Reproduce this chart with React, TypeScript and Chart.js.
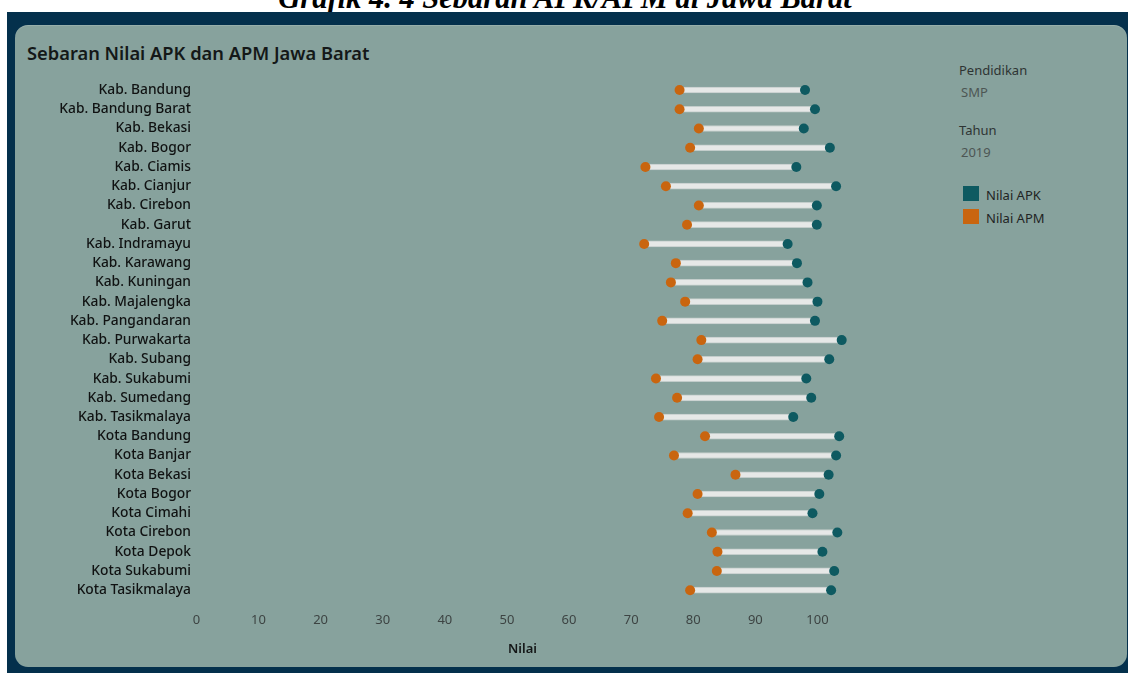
import React, { useEffect, useRef } from "react";
import { Chart, registerables } from "chart.js";

Chart.register(...registerables);

const pageCaption = "Grafik 4. 4 Sebaran APK/APM di Jawa Barat";
const chartTitle = "Sebaran Nilai APK dan APM Jawa Barat";
const axisTitle = "Nilai";

const categories = [
  "Kab. Bandung",
  "Kab. Bandung Barat",
  "Kab. Bekasi",
  "Kab. Bogor",
  "Kab. Ciamis",
  "Kab. Cianjur",
  "Kab. Cirebon",
  "Kab. Garut",
  "Kab. Indramayu",
  "Kab. Karawang",
  "Kab. Kuningan",
  "Kab. Majalengka",
  "Kab. Pangandaran",
  "Kab. Purwakarta",
  "Kab. Subang",
  "Kab. Sukabumi",
  "Kab. Sumedang",
  "Kab. Tasikmalaya",
  "Kota Bandung",
  "Kota Banjar",
  "Kota Bekasi",
  "Kota Bogor",
  "Kota Cimahi",
  "Kota Cirebon",
  "Kota Depok",
  "Kota Sukabumi",
  "Kota Tasikmalaya",
];

const apkValues = [
  98.0, 99.6, 97.8, 102.0, 96.6, 103.0, 99.9, 99.9, 95.2, 96.7, 98.4, 100.0,
  99.6, 103.9, 101.9, 98.2, 99.0, 96.1, 103.5, 103.0, 101.8, 100.3, 99.2, 103.2,
  100.8, 102.7, 102.2,
];

const apmValues = [
  77.8, 77.8, 80.9, 79.5, 72.3, 75.6, 80.9, 79.0, 72.1, 77.2, 76.4, 78.7, 75.0,
  81.3, 80.7, 74.0, 77.4, 74.5, 81.9, 76.9, 86.8, 80.7, 79.1, 83.0, 83.9, 83.8,
  79.5,
];

const xMin = 0;
const xMax = 105;
const xStep = 10;

const filterLabels = [
  { label: "Pendidikan", value: "SMP" },
  { label: "Tahun", value: "2019" },
];

const seriesNames = ["Nilai APK", "Nilai APM"];
const seriesColors = ["#0e5a61", "#c9650f"];

const FONT = "'Noto Sans', 'DejaVu Sans', sans-serif";

export default function App() {
  const canvasRef = useRef<HTMLCanvasElement | null>(null);

  useEffect(() => {
    const canvas = canvasRef.current;
    if (!canvas) return;
    const chart = new Chart(canvas, {
      type: "bar",
      data: {
        labels: categories,
        datasets: [
          {
            type: "line",
            label: seriesNames[0],
            data: apkValues,
            indexAxis: "y",
            showLine: false,
            pointRadius: 5,
            pointHoverRadius: 5,
            pointBorderWidth: 0,
            pointBackgroundColor: seriesColors[0],
            backgroundColor: seriesColors[0],
            borderColor: seriesColors[0],
            order: 1,
          } as any,
          {
            type: "line",
            label: seriesNames[1],
            data: apmValues,
            indexAxis: "y",
            showLine: false,
            pointRadius: 5,
            pointHoverRadius: 5,
            pointBorderWidth: 0,
            pointBackgroundColor: seriesColors[1],
            backgroundColor: seriesColors[1],
            borderColor: seriesColors[1],
            order: 2,
          } as any,
          {
            type: "bar",
            label: "range",
            data: apmValues.map((a, i) => [a, apkValues[i]]) as any,
            backgroundColor: "#e6e8e7",
            borderColor: "#c3cdcb",
            borderWidth: 1,
            borderSkipped: false,
            barThickness: 6,
            order: 3,
          } as any,
        ],
      },
      options: {
        indexAxis: "y",
        responsive: false,
        animation: false,
        maintainAspectRatio: false,
        layout: {
          padding: { left: 0, top: 80.4, right: 279.5, bottom: 15.8 },
        },
        plugins: {
          legend: { display: false },
          tooltip: { enabled: false },
        },
        scales: {
          x: {
            type: "linear",
            position: "bottom",
            min: xMin,
            max: xMax,
            grid: { display: false, drawTicks: false },
            border: { display: false },
            ticks: {
              stepSize: xStep,
              includeBounds: false,
              padding: 13,
              color: "#3d4443",
              font: { family: FONT, size: 13 },
            },
            title: {
              display: true,
              text: axisTitle,
              color: "#141717",
              padding: { top: 0, bottom: 0 },
              font: { family: FONT, size: 13, weight: "600" },
            },
            afterFit: (scale: any) => {
              scale.height = 57.4;
            },
          },
          y: {
            type: "category",
            offset: true,
            grid: { display: false, drawTicks: false },
            border: { display: false },
            ticks: {
              padding: 5.4,
              autoSkip: false,
              color: "#101212",
              font: { family: FONT, size: 13.8, weight: "500" },
            },
            afterFit: (scale: any) => {
              scale.width = 196.4;
            },
          },
        },
      },
    });
    return () => chart.destroy();
  }, []);

  return (
    <div
      style={{
        position: "fixed",
        left: 0,
        top: 0,
        width: 1128,
        height: 673,
        overflow: "hidden",
        background: "#ffffff",
        fontFamily: FONT,
      }}
    >
      <div
        style={{
          position: "absolute",
          left: 0,
          width: 1130,
          top: -17.5,
          textAlign: "center",
          fontFamily: "'Liberation Serif', 'Times New Roman', serif",
          fontWeight: "bold",
          fontStyle: "italic",
          fontSize: 30.5,
          lineHeight: "30.5px",
          color: "#000",
          whiteSpace: "nowrap",
        }}
      >
        {pageCaption}
      </div>
      <div
        style={{
          position: "absolute",
          left: 7,
          top: 12,
          width: 1121,
          height: 661,
          background: "#04304c",
        }}
      />
      <div
        style={{
          position: "absolute",
          left: 15,
          top: 25,
          width: 1112,
          height: 642,
          background: "#87a29d",
          borderRadius: 13,
          boxShadow: "inset 0 1px 0 rgba(255,255,255,0.15)",
        }}
      />
      <div
        style={{
          position: "absolute",
          left: 27,
          top: 41,
          fontSize: 18.3,
          lineHeight: "24px",
          fontWeight: 600,
          color: "#141818",
          whiteSpace: "nowrap",
        }}
      >
        {chartTitle}
      </div>
      {filterLabels.map((f, i) => (
        <div key={f.label}>
          <div
            style={{
              position: "absolute",
              left: 959,
              top: 61 + i * 60,
              fontSize: 13,
              lineHeight: "18px",
              color: "#2e3433",
              whiteSpace: "nowrap",
            }}
          >
            {f.label}
          </div>
          <div
            style={{
              position: "absolute",
              left: 961,
              top: 83 + i * 60,
              fontSize: 13,
              lineHeight: "18px",
              color: "#4d5654",
              whiteSpace: "nowrap",
            }}
          >
            {f.value}
          </div>
        </div>
      ))}
      {seriesNames.map((name, i) => (
        <div key={name}>
          <div
            style={{
              position: "absolute",
              left: 963,
              top: 186 + i * 23,
              width: 16,
              height: 15,
              background: seriesColors[i],
            }}
          />
          <div
            style={{
              position: "absolute",
              left: 986,
              top: 186 + i * 23,
              fontSize: 13,
              lineHeight: "18px",
              color: "#1f2424",
              whiteSpace: "nowrap",
            }}
          >
            {name}
          </div>
        </div>
      ))}
      <canvas
        ref={canvasRef}
        width={1128}
        height={673}
        style={{ position: "absolute", left: 0, top: 0, width: 1128, height: 673 }}
      />
    </div>
  );
}
